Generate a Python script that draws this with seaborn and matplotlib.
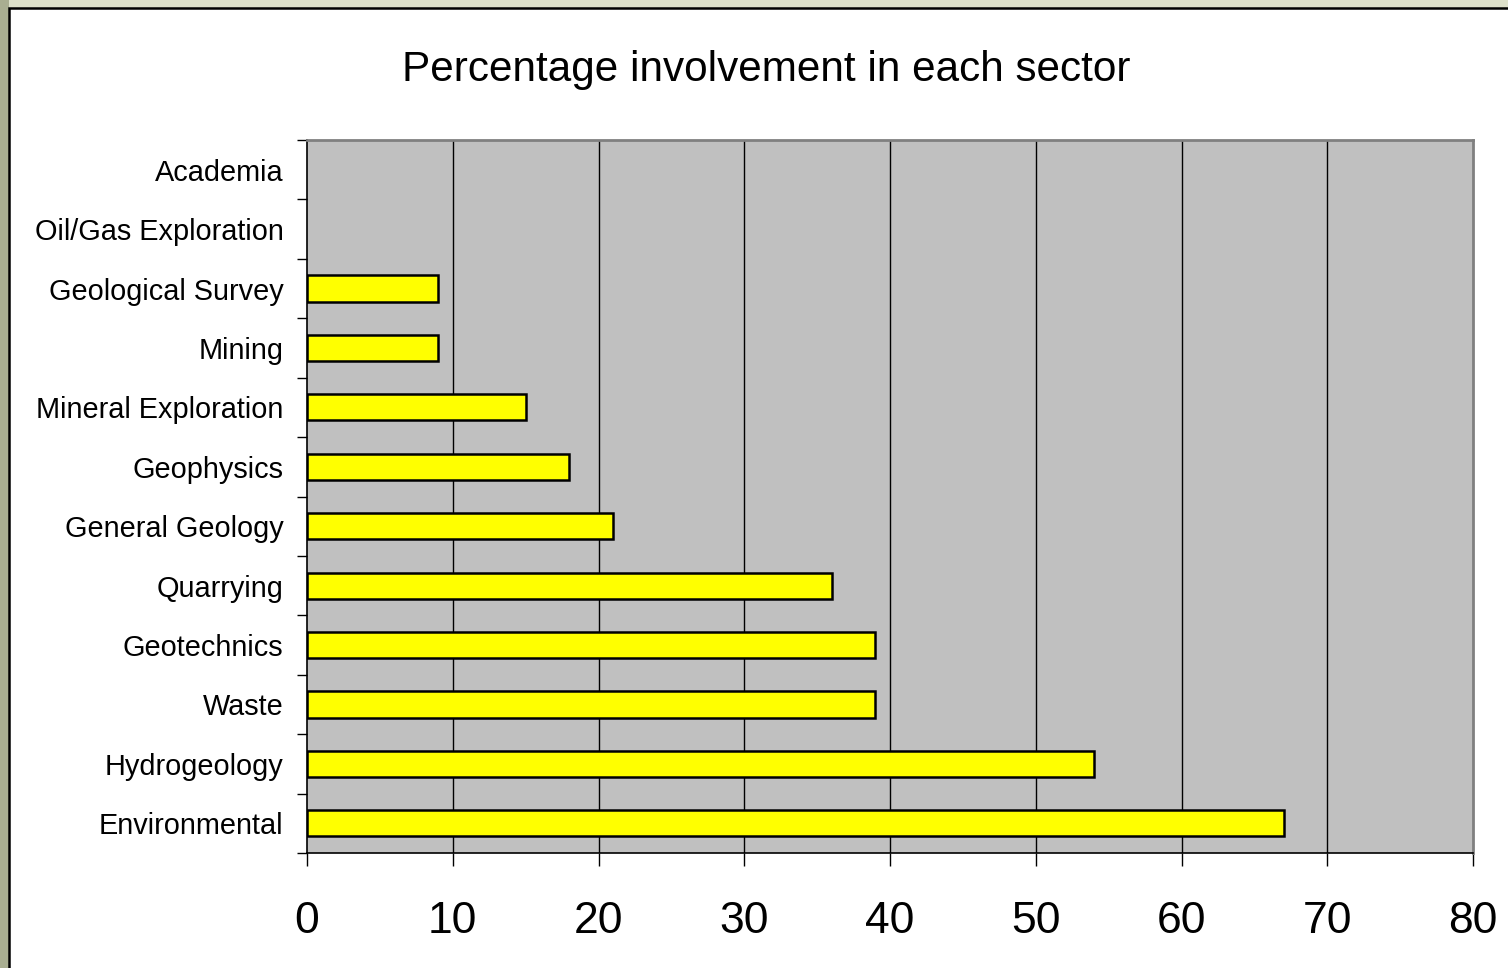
import matplotlib
matplotlib.use("Agg")
import matplotlib.pyplot as plt
from matplotlib.patches import Rectangle
from matplotlib.ticker import FixedLocator
import seaborn as sns
import pandas as pd

categories = ["Academia", "Oil/Gas Exploration", "Geological Survey", "Mining",
              "Mineral Exploration", "Geophysics", "General Geology", "Quarrying",
              "Geotechnics", "Waste", "Hydrogeology", "Environmental"]
values = [0, 0, 9, 9, 15, 18, 21, 36, 39, 39, 54, 67]
x_ticks = [0, 10, 20, 30, 40, 50, 60, 70, 80]
title = "Percentage involvement in each sector"

sns.set_theme(style="white")
plt.rcParams['font.family'] = ['Liberation Sans', 'DejaVu Sans']
plt.rcParams['text.color'] = 'black'
plt.rcParams['xtick.color'] = 'black'
plt.rcParams['ytick.color'] = 'black'

W, H = 1508, 968
fig = plt.figure(figsize=(W / 100, H / 100), dpi=100)
fig.patch.set_facecolor('#dde0ca')
# darker textured-looking strip on the left
fig.patches.append(Rectangle((0, 0), 9 / W, 1, transform=fig.transFigure,
                             facecolor='#a9ae91', edgecolor='none', zorder=0))
# white chart area with black frame
fig.patches.append(Rectangle((9 / W, -0.05), 1.05, 1 - 8 / H + 0.05, transform=fig.transFigure,
                             facecolor='white', edgecolor='black', linewidth=1.8, zorder=1))

ax = fig.add_axes([307 / W, (H - 853) / H, (1473 - 307) / W, (853 - 140) / H])
ax.set_zorder(2)
ax.set_facecolor('#c0c0c0')

df = pd.DataFrame({"sector": categories, "value": values})
sns.barplot(data=df, x="value", y="sector", orient="h", order=categories,
            color="#ffff00", edgecolor="black", linewidth=1.8, width=0.44,
            saturation=1, ax=ax, zorder=3)
for p in ax.patches:
    if p.get_width() == 0:
        p.set_linewidth(0)

ax.set_xlim(0, 80)
ax.set_ylim(len(categories) - 0.5, -0.5)
ax.set_xticks(x_ticks)
ax.set_xticklabels([str(t) for t in x_ticks], fontsize=32, color='black')
ax.tick_params(axis='x', direction='out', length=9.5, width=1, color='black',
               pad=25, bottom=True)
ax.set_yticks(range(len(categories)))
ax.set_yticklabels(categories, fontsize=20.8, color='black')
ax.tick_params(axis='y', which='major', length=0, pad=17)
ax.yaxis.set_minor_locator(FixedLocator([i - 0.5 for i in range(len(categories) + 1)]))
ax.tick_params(axis='y', which='minor', direction='out', length=7.5, width=1,
               color='black', left=True)
ax.set_xlabel("")
ax.set_ylabel("")

for x in x_ticks[1:-1]:
    ax.axvline(x, color='black', linewidth=1, zorder=1)

for s in ['left', 'bottom']:
    ax.spines[s].set_color('black')
    ax.spines[s].set_linewidth(1.2)
for s in ['top', 'right']:
    ax.spines[s].set_color('#808080')
    ax.spines[s].set_linewidth(2)
    ax.spines[s].set_visible(True)

fig.text(766 / W, 1 - 70 / H, title, ha='center', va='center', fontsize=30.4,
         color='black', zorder=3)

fig.savefig("out.png", dpi=100, facecolor=fig.get_facecolor())
